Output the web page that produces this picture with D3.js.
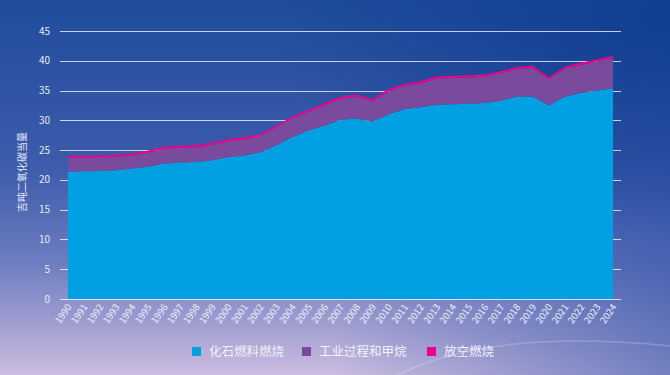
<!DOCTYPE html>
<html>
<head>
<meta charset="utf-8">
<script src="https://cdn.jsdelivr.net/npm/d3@7"></script>
<style>
  html, body { margin: 0; padding: 0; }
  body { width: 670px; height: 375px; overflow: hidden; }
  text { font-family: "Noto Sans CJK SC", "Noto Sans", sans-serif; }
</style>
</head>
<body>
<svg id="chart" width="670" height="375"></svg>
<script>
// data, Gt CO2e
var years = d3.range(1990, 2025);
var fossil = [21.4, 21.45, 21.5, 21.6, 21.9, 22.2, 22.7, 22.9, 23.0, 23.3,
              23.8, 24.1, 24.6, 25.8, 27.2, 28.3, 29.1, 30.1, 30.3, 29.8,
              31.0, 31.9, 32.2, 32.6, 32.7, 32.8, 32.9, 33.3, 34.0, 34.0,
              32.5, 34.0, 34.6, 35.0, 35.4];
var industry = [2.3, 2.25, 2.25, 2.25, 2.2, 2.4, 2.5, 2.5, 2.5, 2.6,
                2.7, 2.7, 2.75, 3.0, 3.1, 3.1, 3.4, 3.5, 3.7, 3.4,
                3.9, 3.9, 4.0, 4.4, 4.4, 4.4, 4.4, 4.6, 4.6, 4.8,
                4.4, 4.7, 4.7, 4.9, 5.1];
var flaring = [0.35, 0.35, 0.35, 0.35, 0.35, 0.35, 0.35, 0.35, 0.35, 0.35,
               0.35, 0.35, 0.35, 0.35, 0.35, 0.35, 0.35, 0.35, 0.35, 0.35,
               0.35, 0.35, 0.35, 0.35, 0.35, 0.35, 0.35, 0.35, 0.35, 0.35,
               0.35, 0.35, 0.35, 0.35, 0.35];
var yTicks = [0, 5, 10, 15, 20, 25, 30, 35, 40, 45];
var seriesNames = ["化石燃料燃烧", "工业过程和甲烷", "放空燃烧"];
var colors = ["#00a0e2", "#7a4b9c", "#ec008c"];
var yLabel = "吉吨二氧化碳当量";

var svg = d3.select("#chart");

// background
var defs = svg.append("defs");
var bg = defs.append("linearGradient").attr("id", "bg")
    .attr("x1", 0).attr("y1", 0).attr("x2", 0).attr("y2", 1);
bg.append("stop").attr("offset", 0).attr("stop-color", "#204c9c");
bg.append("stop").attr("offset", 0.45).attr("stop-color", "#3d5cab");
bg.append("stop").attr("offset", 0.7).attr("stop-color", "#6d7dc0");
bg.append("stop").attr("offset", 0.88).attr("stop-color", "#a5a2d2");
bg.append("stop").attr("offset", 1).attr("stop-color", "#cbbde0");
var side = defs.append("linearGradient").attr("id", "side")
    .attr("x1", 0).attr("y1", 0).attr("x2", 1).attr("y2", 0);
side.append("stop").attr("offset", 0.5).attr("stop-color", "#2c4ea6").attr("stop-opacity", 0);
side.append("stop").attr("offset", 1).attr("stop-color", "#2c4ea6").attr("stop-opacity", 0.55);
var glow = defs.append("radialGradient").attr("id", "dark")
    .attr("cx", 1).attr("cy", 0.05).attr("r", 0.6);
glow.append("stop").attr("offset", 0).attr("stop-color", "#0b3a8c").attr("stop-opacity", 0.8);
glow.append("stop").attr("offset", 1).attr("stop-color", "#0b3a8c").attr("stop-opacity", 0);
svg.append("rect").attr("width", 670).attr("height", 375).attr("fill", "url(#bg)");
svg.append("rect").attr("width", 670).attr("height", 375).attr("fill", "url(#side)");
svg.append("rect").attr("width", 670).attr("height", 375).attr("fill", "url(#dark)");
svg.append("path")
    .attr("d", "M395,376 Q490,328 670,346")
    .attr("fill", "none").attr("stroke", "#ffffff").attr("stroke-opacity", 0.2).attr("stroke-width", 1.5);

var x = d3.scaleLinear().domain([1990, 2024]).range([68, 613]);
var y = d3.scaleLinear().domain([0, 45]).range([299, 31]);

// grid
svg.append("g").selectAll("line")
    .data(yTicks).enter().append("line")
    .attr("x1", 60).attr("x2", 621)
    .attr("y1", function(d) { return Math.round(y(d)) + 0.5; })
    .attr("y2", function(d) { return Math.round(y(d)) + 0.5; })
    .attr("stroke", "#ffffff").attr("stroke-opacity", 0.75);

svg.append("g").selectAll("text")
    .data(yTicks).enter().append("text")
    .attr("x", 50).attr("y", function(d) { return y(d); })
    .attr("dy", "0.35em")
    .attr("text-anchor", "end")
    .attr("font-size", 10)
    .attr("fill", "#e6ebf7")
    .text(function(d) { return d; });

// stacked areas
var table = years.map(function(yr, i) {
  return {year: yr, a: fossil[i], b: industry[i], c: flaring[i]};
});
var stack = d3.stack().keys(["a", "b", "c"]);
var layers = stack(table);

var area = d3.area()
    .x(function(d) { return x(d.data.year); })
    .y0(function(d) { return y(d[0]); })
    .y1(function(d) { return y(d[1]); });

svg.append("g").selectAll("path")
    .data(layers).enter().append("path")
    .attr("fill", function(d, i) { return colors[i]; })
    .attr("d", area);

// x labels
svg.append("g").selectAll("text")
    .data(years).enter().append("text")
    .attr("transform", function(d) { return "translate(" + (x(d) + 4) + ",307) rotate(-55)"; })
    .attr("text-anchor", "end")
    .attr("font-size", 9.5)
    .attr("fill", "#eef1fa")
    .text(function(d) { return d; });

// y title
svg.append("text")
    .attr("transform", "translate(26,172) rotate(-90)")
    .attr("text-anchor", "middle")
    .attr("font-size", 10)
    .attr("fill", "#e6ebf7")
    .text(yLabel);

// legend
var legendX = [192, 302, 427];
var legend = svg.append("g").selectAll("g")
    .data(seriesNames).enter().append("g")
    .attr("transform", function(d, i) { return "translate(" + legendX[i] + ",347)"; });
legend.append("rect")
    .attr("width", 9).attr("height", 9)
    .attr("fill", function(d, i) { return colors[i]; });
legend.append("text")
    .attr("x", 17).attr("y", 4.5).attr("dy", "0.36em")
    .attr("font-size", 12.5)
    .attr("fill", "#f2f2fa")
    .text(function(d) { return d; });
</script>
</body>
</html>
